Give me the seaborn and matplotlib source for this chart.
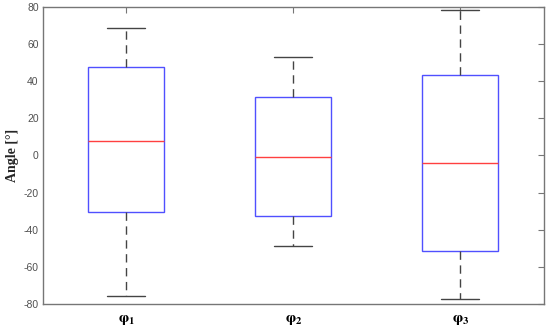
import numpy as np
import pandas as pd
import matplotlib
matplotlib.use("Agg")
import matplotlib.pyplot as plt
import seaborn as sns

# five-number summaries (min, Q1, median, Q3, max)
labels = [r"$\mathbf{\varphi_1}$", r"$\mathbf{\varphi_2}$", r"$\mathbf{\varphi_3}$"]
phi1 = [-75.7, -30.4, 7.8, 47.6, 68.5]
phi2 = [-48.8, -32.6, -0.8, 31.6, 53.0]
phi3 = [-77.3, -51.4, -4.0, 43.4, 78.4]

df = pd.DataFrame({
    "angle": phi1 + phi2 + phi3,
    "group": [labels[0]] * 5 + [labels[1]] * 5 + [labels[2]] * 5,
})

sns.set_style("white")
plt.rcParams["axes.unicode_minus"] = False
plt.rcParams["mathtext.fontset"] = "stix"
fig = plt.figure(figsize=(5.5, 3.31), dpi=100)
ax = fig.add_axes([0.078, 0.082, 0.911, 0.897])

axis_col = "#767676"
sns.boxplot(data=df, x="group", y="angle", order=labels, whis=(0, 100),
            width=0.455, color="white", linewidth=1.0, ax=ax,
            boxprops=dict(edgecolor="#5050ff", facecolor="white"),
            medianprops=dict(color="#ff4040"),
            whiskerprops=dict(color="#444444", linestyle=(0, (6, 4))),
            capprops=dict(color="#444444"))

ax.set_xlim(-0.5, 2.5)
ax.set_ylim(-80, 80)
ax.set_yticks(np.arange(-80, 81, 20))
ax.set_xlabel("")
ax.set_ylabel("Angle [°]", fontsize=10, fontweight="bold",
              family=["Liberation Serif", "DejaVu Serif"], labelpad=3)

for s in ax.spines.values():
    s.set_visible(True)
    s.set_color(axis_col)
    s.set_linewidth(1.0)

ax.tick_params(axis="both", direction="in", length=4, color=axis_col,
               top=True, right=True, labelcolor="#505050")
ax.tick_params(axis="y", labelsize=7.5, pad=3)
for t in ax.get_yticklabels():
    t.set_family(["Liberation Sans", "DejaVu Sans"])
ax.tick_params(axis="x", pad=6)
for t in ax.get_xticklabels():
    t.set_fontsize(11)
    t.set_color("black")

fig.savefig("out.png", dpi=100)
